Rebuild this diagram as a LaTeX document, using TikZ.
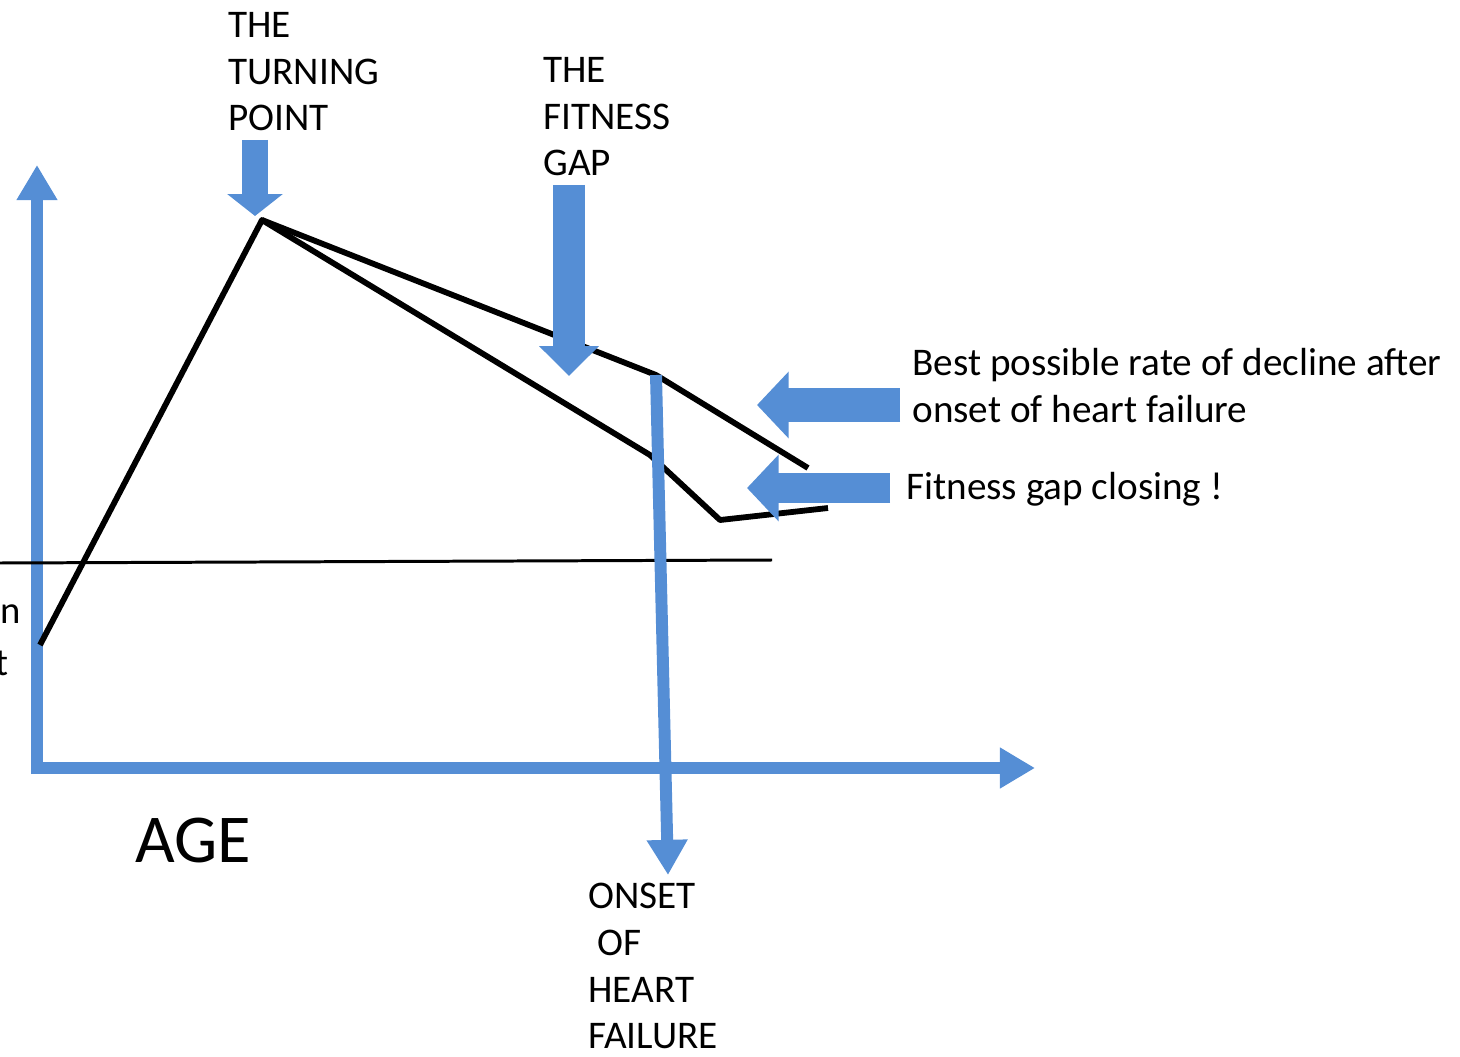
\documentclass[tikz,border=0pt]{standalone}
\usepackage{fontspec}
\setmainfont{Carlito}
\usetikzlibrary{arrows.meta}

\definecolor{axisblue}{RGB}{85,142,213}
\def \axisWidth {6.8pt}
\def \curveWidth {3.3pt}

\tikzset{
  axis/.style={draw=axisblue, line width=\axisWidth, -{Triangle[width=22pt,length=20pt]}},
  curve/.style={black, line width=\curveWidth, line join=round},
  fatarrow/.style n args={3}{draw=axisblue, line width=#1, -{Triangle[width=#2,length=#3]}},
  caption/.style={inner sep=0pt, anchor=north west, align=left, font=\fontsize{22.3}{26.6}\selectfont}
}

\begin{document}
\begin{tikzpicture}[x=0.02cm, y=-0.02cm]
         \useasboundingbox (0, 0) rectangle (1460, 1057);
         % points of the fitness curves
         \coordinate (start) at (40, 645);
         \coordinate (peak) at (262, 220);
         \coordinate (lowBend) at (650, 455);
         \coordinate (lowFloor) at (720, 520);
         \coordinate (lowEnd) at (828, 508);
         \coordinate (onset) at (656, 375);
         \coordinate (highEnd) at (808, 468);
         \coordinate (onsetTip) at (668, 875);
         % axes
         \draw[axis] (37, 774) -- (37, 165);
         \draw[axis] (31, 768) -- (1035, 768);
         \draw[black, line width=1.7pt] (0, 563) -- (772, 560);
         % curves
         \draw[curve] (start) -- (peak) -- (lowBend) -- (lowFloor) -- (lowEnd);
         \draw[curve] (peak) -- (onset) -- (highEnd);
         \draw[axis] (onset) -- (onsetTip);
         % pointers
         \draw[fatarrow={15pt}{31pt}{12.5pt}] (255, 140) -- (255, 216);
         \draw[fatarrow={18pt}{33pt}{17pt}] (569, 185) -- (569, 376);
         \draw[fatarrow={19pt}{37pt}{18pt}] (900, 405) -- (757, 405);
         \draw[fatarrow={17.6pt}{37pt}{18pt}] (890, 488) -- (747, 488);
         % labels
         \node[caption] (turningLabel) at (228, 12) {THE\\TURNING\\POINT};
         \node[caption] (gapLabel) at (543, 57) {THE\\FITNESS\\GAP};
         \node[caption] (declineLabel) at (912, 348) {Best possible rate of decline after\\onset of heart failure};
         \node[caption] (closingLabel) at (906, 472) {Fitness gap closing !};
         \node[caption, font=\fontsize{39}{46}\selectfont] (ageLabel) at (135, 818) {AGE};
         \node[caption] (onsetLabel) at (588, 883) {ONSET\\\ OF\\HEART\\FAILURE};
         \node[inner sep=0pt, anchor=base east, font=\fontsize{22}{26.6}\selectfont] (cutN) at (21, 623) {n};
         \node[inner sep=0pt, anchor=base east, font=\fontsize{22}{26.6}\selectfont] (cutT) at (9, 675) {t};
      \end{tikzpicture}
\end{document}
